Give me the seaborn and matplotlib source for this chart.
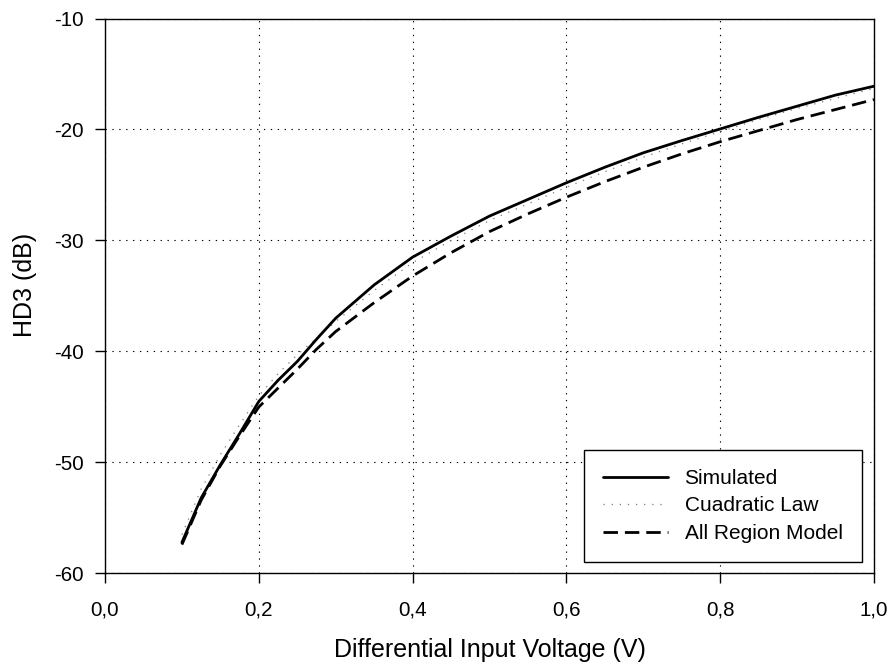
import pandas as pd
import matplotlib
matplotlib.use("Agg")
import matplotlib.pyplot as plt
import seaborn as sns

sns.set_style("white")
plt.rcParams["font.family"] = ["Liberation Sans", "DejaVu Sans"]
plt.rcParams["axes.unicode_minus"] = False
plt.rcParams["text.color"] = "black"
plt.rcParams["axes.labelcolor"] = "black"

# data
vin = [0.10, 0.125, 0.15, 0.175, 0.20, 0.225, 0.25, 0.275, 0.30, 0.35, 0.40, 0.45,
       0.50, 0.55, 0.60, 0.65, 0.70, 0.75, 0.80, 0.85, 0.90, 0.95, 1.00]
hd3_simulated = [-57.2, -53.2, -50.2, -47.4, -44.5, -42.6, -40.9, -38.9, -37.0, -34.0, -31.5, -29.6,
                 -27.8, -26.3, -24.8, -23.4, -22.1, -21.0, -19.95, -18.9, -17.9, -16.9, -16.1]
hd3_cuadratic = [-56.5, -52.4, -49.3, -46.6, -44.0, -42.0, -40.3, -38.8, -37.3, -34.5, -32.0, -30.0,
                 -28.2, -26.7, -25.2, -23.8, -22.5, -21.3, -20.2, -19.1, -18.1, -17.2, -16.3]
hd3_allregion = [-57.4, -53.4, -50.3, -47.6, -45.0, -43.3, -41.6, -39.8, -38.2, -35.6, -33.2, -31.1,
                 -29.2, -27.6, -26.1, -24.7, -23.4, -22.2, -21.1, -20.1, -19.1, -18.2, -17.3]

x_ticks = [0.0, 0.2, 0.4, 0.6, 0.8, 1.0]
x_labels = ["0,0", "0,2", "0,4", "0,6", "0,8", "1,0"]
y_ticks = [-60, -50, -40, -30, -20, -10]
y_labels = ["-60", "-50", "-40", "-30", "-20", "-10"]

df = pd.DataFrame({"vin": vin, "sim": hd3_simulated,
                   "cuad": hd3_cuadratic, "allr": hd3_allregion})

fig, ax = plt.subplots(figsize=(8.9, 6.68), dpi=100)
fig.subplots_adjust(left=0.118, right=0.982, top=0.9723, bottom=0.1415)

sns.lineplot(x="vin", y="sim", data=df, ax=ax, color="black", lw=2.0,
             label="Simulated", zorder=4)
sns.lineplot(x="vin", y="cuad", data=df, ax=ax, color="#7a7a7a", lw=0.9,
             linestyle=(0, (1, 5.5)), label="Cuadratic Law", zorder=3)
sns.lineplot(x="vin", y="allr", data=df, ax=ax, color="black", lw=2.0,
             linestyle=(0, (5.2, 2.5)), label="All Region Model", zorder=4)

ax.set_xlim(0, 1)
ax.set_ylim(-60, -10)
ax.set_xticks(x_ticks)
ax.set_xticklabels(x_labels)
ax.set_yticks(y_ticks)
ax.set_yticklabels(y_labels)

ax.grid(True, color="black", lw=0.8, linestyle=(0, (1.2, 5)))
for s in ax.spines.values():
    s.set_color("black")
    s.set_linewidth(1.0)

ax.tick_params(axis="both", direction="out", length=7, width=1.0, color="black",
               labelsize=14.8, labelcolor="black")
ax.tick_params(axis="x", pad=12.5)
ax.tick_params(axis="y", pad=8)
ax.tick_params(left=True, bottom=True, top=False, right=False)

ax.set_xlabel("Differential Input Voltage (V)", fontsize=18, color="black")
ax.set_ylabel("HD3 (dB)", fontsize=18, color="black")
ax.xaxis.set_label_coords(0.5, -0.116)
ax.yaxis.set_label_coords(-0.088, 0.52)

leg = ax.legend(loc="lower right", bbox_to_anchor=(0.984, 0.0207), borderaxespad=0,
                fontsize=15, handlelength=3.1, handletextpad=0.8, labelspacing=0.4,
                borderpad=0.92, fancybox=False, framealpha=1, edgecolor="black")
leg.get_frame().set_linewidth(1.0)
for t in leg.get_texts():
    t.set_color("black")

plt.savefig("out.png", dpi=100)
plt.close()
